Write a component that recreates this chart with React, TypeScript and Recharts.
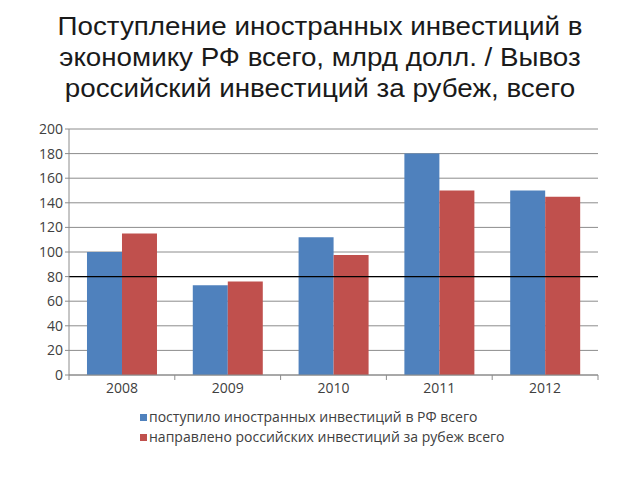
import { BarChart, Bar, XAxis, YAxis, CartesianGrid, ReferenceLine } from 'recharts'

const years = ['2008', '2009', '2010', '2011', '2012']
const inflow = [100, 73, 112, 180, 150]
const outflow = [115, 76, 97.5, 150, 145]
const yTicks = [0, 20, 40, 60, 80, 100, 120, 140, 160, 180, 200]

const titleLines = [
  'Поступление иностранных инвестиций в',
  'экономику РФ всего, млрд долл. / Вывоз',
  'российский инвестиций за рубеж, всего',
]
const seriesNames = [
  'поступило иностранных инвестиций в РФ всего',
  'направлено российских инвестиций за рубеж всего',
]

const data = years.map((year, i) => ({ year, inflow: inflow[i], outflow: outflow[i] }))

const BLUE = '#4f81bd'
const RED = '#c0504d'
const FONT = '"Open Sans", "Noto Sans", sans-serif'

const XTick = ({ x, y, payload, index }: any) => {
  const half = payload.offset || 0
  return (
    <g>
      <line x1={x - half} y1={y - 8} x2={x - half} y2={y - 3} stroke="#8c8c8c" />
      {index === years.length - 1 && (
        <line x1={x + half} y1={y - 8} x2={x + half} y2={y - 3} stroke="#8c8c8c" />
      )}
      <text x={x} y={y + 10} textAnchor="middle" fill="#404040" fontSize={14} fontFamily={FONT}>
        {payload.value}
      </text>
    </g>
  )
}

export default function App() {
  return (
    <div style={{ position: 'absolute', left: 0, top: 0, width: 640, height: 480, background: '#fff', fontFamily: FONT }}>
      <div
        style={{
          position: 'absolute',
          top: 11,
          left: 0,
          width: 640,
          textAlign: 'center',
          fontSize: 25,
          lineHeight: '31px',
          color: '#1a1a1a',
          fontFamily: '"Liberation Sans", Arial, sans-serif',
          transform: 'scaleX(1.11)',
          transformOrigin: '50% 0',
        }}
      >
        {titleLines.map((t) => (
          <div key={t}>{t}</div>
        ))}
      </div>
      <div style={{ position: 'absolute', left: 0, top: 0 }}>
        <BarChart
          width={640}
          height={480}
          data={data}
          margin={{ top: 129, right: 42, left: 0, bottom: 75 }}
          barCategoryGap="17%"
          barGap={0}
        >
          <CartesianGrid vertical={false} stroke="#8c8c8c" />
          <XAxis
            dataKey="year"
            height={30}
            axisLine={{ stroke: '#8c8c8c' }}
            tickLine={false}
            tick={<XTick />}
            interval={0}
          />
          <YAxis
            width={69}
            domain={[0, 200]}
            ticks={yTicks}
            interval={0}
            axisLine={{ stroke: '#8c8c8c' }}
            tickLine={{ stroke: '#8c8c8c' }}
            tickSize={4}
            tick={{ fill: '#404040', fontSize: 14, fontFamily: FONT }}
          />
          <ReferenceLine y={80} stroke="#000" strokeWidth={1.2} />
          <Bar dataKey="inflow" name={seriesNames[0]} fill={BLUE} isAnimationActive={false} />
          <Bar dataKey="outflow" name={seriesNames[1]} fill={RED} isAnimationActive={false} />
        </BarChart>
      </div>
      <div style={{ position: 'absolute', left: 140, top: 407, fontSize: 14, lineHeight: '20px', color: '#404040' }}>
        {seriesNames.map((n, i) => (
          <div key={n} style={{ display: 'flex', alignItems: 'center' }}>
            <span style={{ display: 'inline-block', width: 7, height: 7, background: i === 0 ? BLUE : RED, marginRight: 2 }} />
            {n}
          </div>
        ))}
      </div>
    </div>
  )
}
